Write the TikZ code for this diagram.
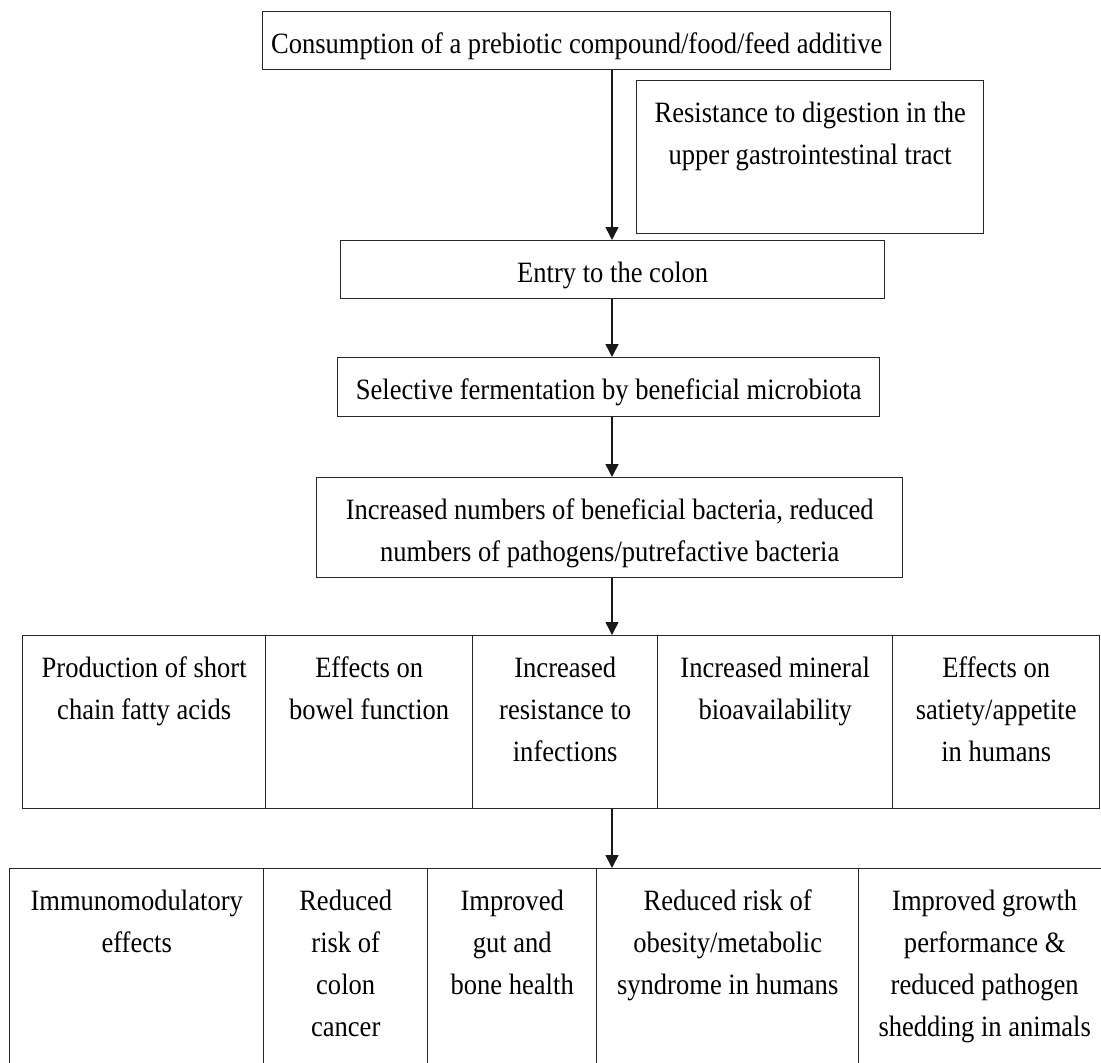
\documentclass[tikz,border=0pt]{standalone}
\usepackage{fontspec}
\setmainfont{Liberation Serif}[FakeStretch=0.9]
\usetikzlibrary{arrows.meta}
\newcommand{\flowbox}[6]{%
  \node[boxst, anchor=north west] (#1) at (#2,#3)
    {\parbox[t][#5pt][t]{#4pt}{\fontsize{29.5}{42}\selectfont\centering\rule{0pt}{42pt}#6}};}
\tikzset{
  boxst/.style={draw=black!85, line width=1.4pt, inner sep=0pt, fill=white},
  arr/.style={draw=black!90, line width=1.5pt, -{Triangle[width=13pt,length=13pt]}}
}
\begin{document}
\begin{tikzpicture}[x=1pt,y=-1pt]
\useasboundingbox (0,0) rectangle (1101,1063);
\clip (0,0) rectangle (1101,1063);
\fill[white] (0,0) rectangle (1101,1063);
\coordinate (ax) at (612,0);
% upper chain
\flowbox{top}{262}{11}{628}{58}{Consumption of a prebiotic compound/food/feed additive}
\flowbox{res}{636}{80}{347}{153}{Resistance to digestion in the\\upper gastrointestinal tract}
\flowbox{entry}{340}{240}{544}{58}{Entry to the colon}
\flowbox{sel}{337}{357}{542}{59}{Selective fermentation by beneficial microbiota}
\flowbox{inc}{316}{477}{586}{100}{Increased numbers of beneficial bacteria, reduced\\numbers of pathogens/putrefactive bacteria}
% row 1
\flowbox{ra}{22}{635}{243}{173}{Production of short\\chain fatty acids}
\flowbox{rb}{265}{635}{207}{173}{Effects on\\bowel function}
\flowbox{rc}{472}{635}{185}{173}{Increased\\resistance to\\infections}
\flowbox{rd}{657}{635}{235}{173}{Increased mineral\\bioavailability}
\flowbox{re}{892}{635}{207}{173}{Effects on\\satiety/appetite\\in humans}
% row 2
\flowbox{sa}{9}{868}{254}{220}{Immunomodulatory\\effects}
\flowbox{sb}{263}{868}{164}{220}{Reduced\\risk of\\colon\\cancer}
\flowbox{sc}{427}{868}{169}{220}{Improved\\gut and\\bone health}
\flowbox{sd}{596}{868}{262}{220}{Reduced risk of\\obesity/metabolic\\syndrome in humans}
\flowbox{se}{858}{868}{252}{220}{Improved growth\\performance \&\\reduced pathogen\\shedding in animals}
% arrows
\draw[arr] (top.south -| ax) -- (entry.north -| ax);
\draw[arr] (entry.south -| ax) -- (sel.north -| ax);
\draw[arr] (sel.south -| ax) -- (inc.north -| ax);
\draw[arr] (inc.south -| ax) -- (rc.north -| ax);
\draw[arr] (rc.south -| ax) -- (sd.north -| ax);
\end{tikzpicture}
\end{document}
